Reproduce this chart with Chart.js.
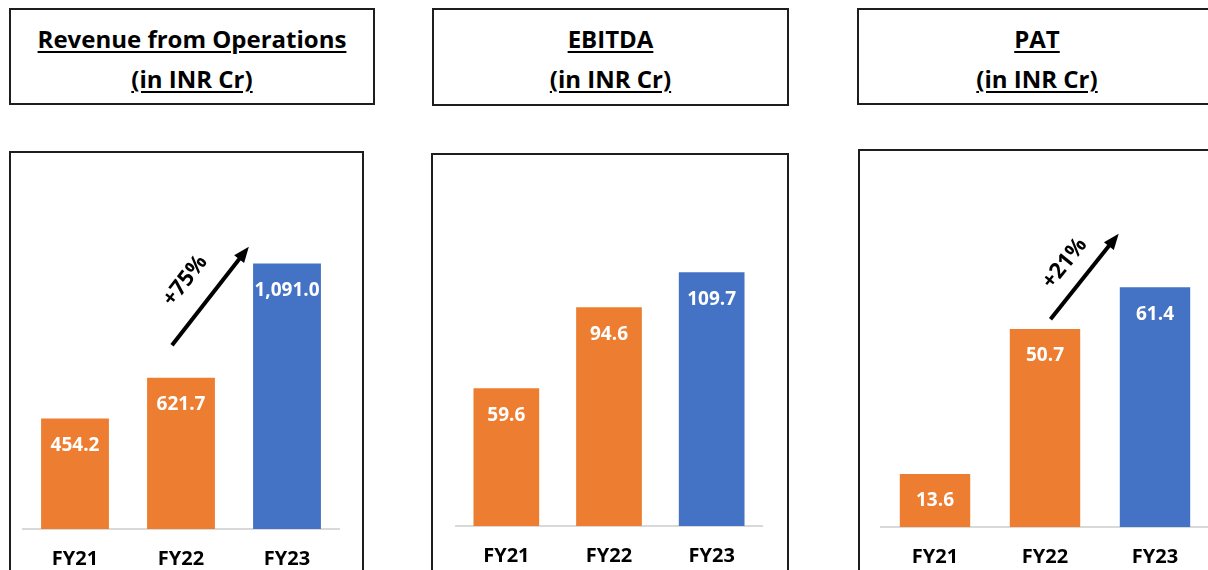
<!DOCTYPE html>
<html>
<head>
<meta charset="utf-8">
<script src="https://cdn.jsdelivr.net/npm/chart.js@4.4.1/dist/chart.umd.min.js"></script>
<style>
  html, body { margin: 0; padding: 0; background: #fff; width: 1208px; height: 570px; overflow: hidden; }
  body { position: relative; font-family: "Open Sans", sans-serif; }
  .box { position: absolute; box-sizing: border-box; border: 2px solid #1e1e1e; }
  .title { text-align: center; font-weight: bold; font-size: 24px; color: #000; font-family: "Open Sans", sans-serif; }
  .title div { position: absolute; left: 0; right: 0; text-decoration: underline; text-decoration-thickness: 2px; text-underline-offset: 3px; }
  canvas { position: absolute; }
</style>
</head>
<body>

<div class="box title" style="left:9px; top:8px; width:366px; height:97px;">
  <div style="top:12px;">Revenue from Operations</div>
  <div style="top:52px;">(in INR Cr)</div>
</div>
<div class="box title" style="left:432px; top:8px; width:357px; height:98px;">
  <div style="top:12px;">EBITDA</div>
  <div style="top:52px;">(in INR Cr)</div>
</div>
<div class="box title" style="left:857px; top:8px; width:400px; height:97px;">
  <div style="top:12px; left:0; width:356px;">PAT</div>
  <div style="top:52px; left:0; width:356px;">(in INR Cr)</div>
</div>

<div class="box" style="left:9px; top:151px; width:355px; height:460px;"></div>
<div class="box" style="left:431px; top:153px; width:358px; height:460px;"></div>
<div class="box" style="left:858px; top:149px; width:400px; height:460px;"></div>

<canvas id="revChart" style="left:22px; top:150px;"></canvas>
<canvas id="ebitdaChart" style="left:455px; top:150px;"></canvas>
<canvas id="patChart" style="left:880px; top:150px;"></canvas>

<script>
// data
const years = ["FY21", "FY22", "FY23"];
const revenue = [454.2, 621.7, 1091.0];
const ebitda = [59.6, 94.6, 109.7];
const pat = [13.6, 50.7, 61.4];
const barColors = ["#ED7D31", "#ED7D31", "#4472C4"];
const revenueGrowth = "+75%";
const patGrowth = "+21%";

function fmt(v) {
    return v.toLocaleString("en-US", { minimumFractionDigits: 1, maximumFractionDigits: 1 });
}

// value labels inside the bars + growth arrow
const overlay = {
    id: "overlay",
    afterDatasetsDraw(chart, args, opts) {
        const ctx = chart.ctx;
        const meta = chart.getDatasetMeta(0);
        const values = chart.data.datasets[0].data;
        ctx.save();
        ctx.font = "bold 19px 'Open Sans'";
        ctx.fillStyle = "#fff";
        ctx.textAlign = "center";
        ctx.textBaseline = "middle";
        meta.data.forEach((bar, i) => {
            ctx.fillText(fmt(values[i]), bar.x, bar.y + 27);
        });

        if (opts.arrow) {
            const xs = chart.scales.x, ys = chart.scales.y;
            const a = opts.arrow;
            const x1 = xs.getPixelForValue(a.from[0]), y1 = ys.getPixelForValue(a.from[1]);
            const x2 = xs.getPixelForValue(a.to[0]), y2 = ys.getPixelForValue(a.to[1]);
            const ang = Math.atan2(y2 - y1, x2 - x1);
            const head = 17;
            ctx.strokeStyle = "#000";
            ctx.fillStyle = "#000";
            ctx.lineWidth = 4;
            ctx.beginPath();
            ctx.moveTo(x1, y1);
            ctx.lineTo(x2 - Math.cos(ang) * head * 0.8, y2 - Math.sin(ang) * head * 0.8);
            ctx.stroke();
            ctx.beginPath();
            ctx.moveTo(x2, y2);
            ctx.lineTo(x2 - head * Math.cos(ang - 0.38), y2 - head * Math.sin(ang - 0.38));
            ctx.lineTo(x2 - head * Math.cos(ang + 0.38), y2 - head * Math.sin(ang + 0.38));
            ctx.closePath();
            ctx.fill();

            const lx = xs.getPixelForValue(a.label[0]), ly = ys.getPixelForValue(a.label[1]);
            ctx.translate(lx, ly);
            ctx.rotate(ang);
            ctx.font = "bold 22px 'Open Sans'";
            ctx.fillText(a.text, 0, 0);
        }
        ctx.restore();
    }
};

function makeChart(id, values, yMax, width, height, padTop, arrow) {
    const canvas = document.getElementById(id);
    canvas.width = width;
    canvas.height = height;
    return new Chart(canvas, {
        type: "bar",
        data: {
            labels: years,
            datasets: [{
                data: values,
                backgroundColor: barColors,
                barPercentage: 0.8,
                categoryPercentage: 0.8
            }]
        },
        options: {
            responsive: false,
            animation: false,
            layout: { padding: { top: padTop, left: 0, right: 0, bottom: 0 } },
            plugins: {
                legend: { display: false },
                tooltip: { enabled: false },
                overlay: { arrow: arrow }
            },
            scales: {
                x: {
                    grid: { display: false, drawTicks: false },
                    border: { color: "#d9d9d9", width: 2 },
                    ticks: {
                        color: "#000",
                        padding: 18,
                        font: { family: "'Open Sans'", size: 20, weight: "bold" }
                    }
                },
                y: {
                    display: false,
                    min: 0,
                    max: yMax
                }
            }
        },
        plugins: [overlay]
    });
}

makeChart("revChart", revenue, 1500, 318, 439, 14,
    { from: [0.915, 755], to: [1.64, 1160], label: [1.04, 1020], text: revenueGrowth });
makeChart("ebitdaChart", ebitda, 160, 308, 436, 6, null);
makeChart("patChart", pat, 95, 330, 437, 6,
    { from: [1.05, 53.2], to: [1.67, 75.1], label: [1.18, 67.5], text: patGrowth });
</script>
</body>
</html>
